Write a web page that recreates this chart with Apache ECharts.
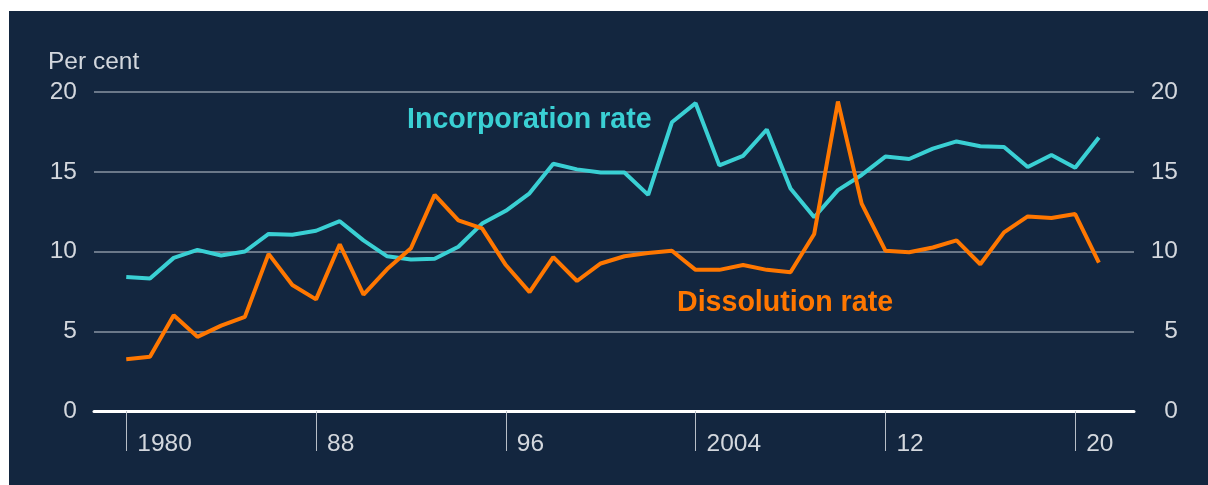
<!DOCTYPE html>
<html>
<head>
<meta charset="utf-8">
<script src="https://cdn.jsdelivr.net/npm/echarts@6/dist/echarts.min.js"></script>
<style>
html,body{margin:0;padding:0;background:#ffffff;}
#chart{position:absolute;left:9px;top:11px;width:1199px;height:474px;}
</style>
</head>
<body>
<div id="chart"></div>
<script>
const years = [1980,1981,1982,1983,1984,1985,1986,1987,1988,1989,1990,1991,1992,1993,1994,1995,1996,1997,1998,1999,2000,2001,2002,2003,2004,2005,2006,2007,2008,2009,2010,2011,2012,2013,2014,2015,2016,2017,2018,2019,2020,2021];
const incorporationRate = [8.4,8.3,9.6,10.1,9.75,10.0,11.1,11.05,11.3,11.9,10.7,9.7,9.5,9.55,10.3,11.75,12.55,13.65,15.5,15.15,14.95,14.95,13.55,18.1,19.3,15.4,16.0,17.65,13.95,12.15,13.85,14.8,15.95,15.8,16.45,16.9,16.6,16.55,15.3,16.05,15.25,17.15];
const dissolutionRate = [3.25,3.4,6.0,4.65,5.35,5.9,9.85,7.9,7.0,10.45,7.3,8.9,10.2,13.55,11.95,11.45,9.15,7.45,9.65,8.15,9.25,9.7,9.9,10.05,8.85,8.85,9.15,8.85,8.7,11.1,19.4,13.0,10.05,9.95,10.25,10.7,9.2,11.2,12.2,12.1,12.35,9.3];
const xTickYears = [1980,1988,1996,2004,2012,2020];
const xTickLabels = {1980:'1980',1988:'88',1996:'96',2004:'2004',2012:'12',2020:'20'};

const textCol = '#d3d7dd';
const font = 'Liberation Sans, Arial, sans-serif';
const chart = echarts.init(document.getElementById('chart'));
chart.setOption({
  backgroundColor: '#13263f',
  animation: false,
  grid: {left: 85, right: 74, top: 81, bottom: 74},
  xAxis: {
    type: 'value', min: 1978.64, max: 2022.48,
    splitLine: {show: false},
    axisLine: {show: true, onZero: false, lineStyle: {color: '#ffffff', width: 3}},
    axisTick: {show: true, customValues: xTickYears, length: 40, lineStyle: {color: '#b8bec7', width: 1}},
    axisLabel: {customValues: xTickYears, formatter: v => xTickLabels[v] || '', color: textCol,
      fontFamily: font, fontSize: 24.5, align: 'left', padding: [0,0,0,11], margin: 21}
  },
  yAxis: [
    {type: 'value', min: 0, max: 20, interval: 5, position: 'left',
     axisLine: {show: false}, axisTick: {show: false},
     splitLine: {show: true, lineStyle: {color: '#8a94a3', width: 1.5}},
     axisLabel: {color: textCol, fontFamily: font, fontSize: 24.5, margin: 17, padding: [3,0,0,0]}},
    {type: 'value', min: 0, max: 20, interval: 5, position: 'right',
     axisLine: {show: false}, axisTick: {show: false}, splitLine: {show: false},
     axisLabel: {color: textCol, fontFamily: font, fontSize: 24.5, margin: 44, align: 'right', padding: [3,0,0,0]}}
  ],
  series: [
    {name: 'Incorporation rate', type: 'line', data: years.map((y,i)=>[y, incorporationRate[i]]),
     showSymbol: false, lineStyle: {color: '#3ad0d4', width: 4}, z: 3},
    {name: 'Dissolution rate', type: 'line', data: years.map((y,i)=>[y, dissolutionRate[i]]),
     showSymbol: false, lineStyle: {color: '#ff7700', width: 4}, z: 3}
  ],
  graphic: [
    {type: 'text', left: 39, top: 39, style: {text: 'Per cent', fill: textCol, font: '24.5px ' + font}},
    {type: 'text', x: 398, y: 109, style: {text: 'Incorporation rate', fill: '#3ad0d4', font: 'bold 28.6px ' + font, verticalAlign: 'middle'}},
    {type: 'text', x: 668, y: 292, style: {text: 'Dissolution rate', fill: '#ff7700', font: 'bold 28.6px ' + font, verticalAlign: 'middle'}}
  ]
});
</script>
</body>
</html>
